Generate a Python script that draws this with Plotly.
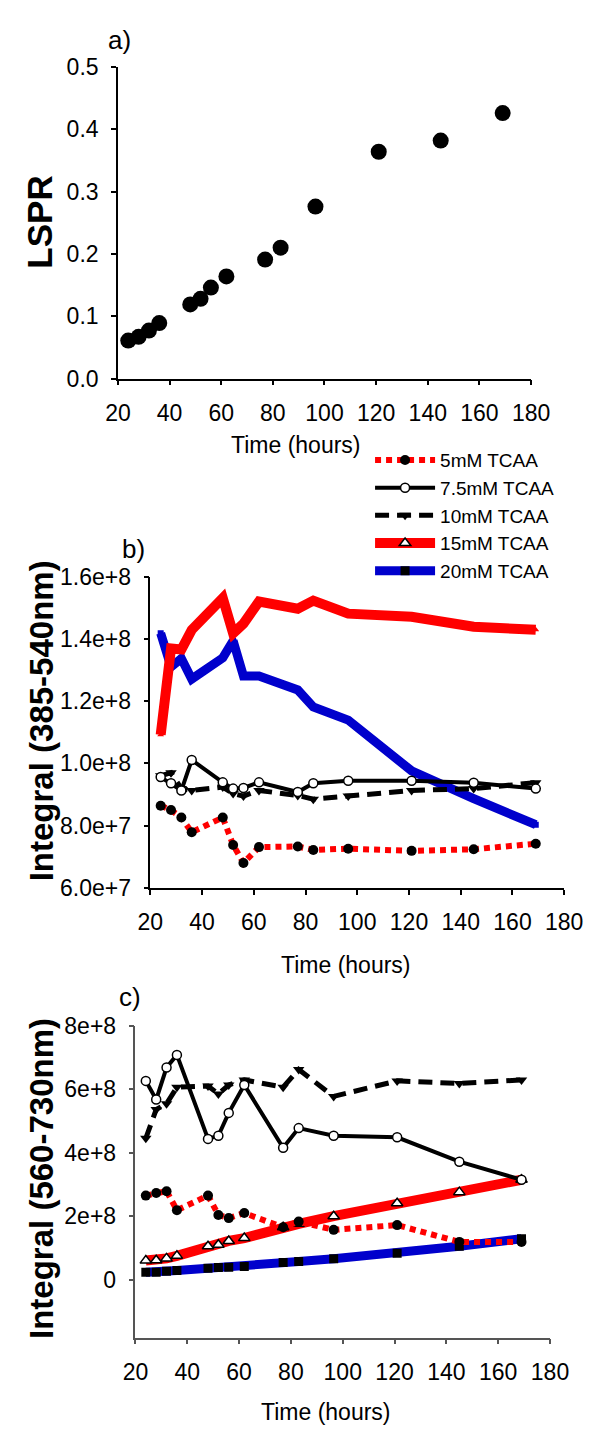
import plotly.graph_objects as go

W, H = 605, 1438

# ---------------- data ----------------
time_h = [24, 28, 32, 36, 48, 52, 56, 62, 77, 83, 96.5, 121, 145, 169]

# panel a
lspr = [0.061, 0.067, 0.077, 0.089, 0.119, 0.128, 0.146, 0.164, 0.191, 0.210, 0.276, 0.364, 0.382, 0.426]

# panel b : Integral (385-540nm)
b_5mM = [8.64e7, 8.50e7, 8.26e7, 7.79e7, 8.26e7, 7.38e7, 6.80e7, 7.31e7, 7.33e7, 7.22e7, 7.26e7, 7.19e7, 7.24e7, 7.42e7]
b_7_5mM = [9.56e7, 9.36e7, 9.13e7, 10.11e7, 9.39e7, 9.19e7, 9.21e7, 9.39e7, 9.08e7, 9.36e7, 9.44e7, 9.44e7, 9.38e7, 9.19e7]
b_10mM = [9.60e7, 9.70e7, 9.19e7, 9.13e7, 9.24e7, 9.03e7, 8.95e7, 9.13e7, 8.97e7, 8.85e7, 8.95e7, 9.13e7, 9.19e7, 9.38e7]
b_15mM = [10.92e7, 13.69e7, 13.66e7, 14.29e7, 15.31e7, 14.18e7, 14.49e7, 15.20e7, 14.97e7, 15.23e7, 14.81e7, 14.71e7, 14.39e7, 14.29e7]
b_20mM = [14.18e7, 13.10e7, 13.37e7, 12.71e7, 13.39e7, 13.94e7, 12.81e7, 12.81e7, 12.36e7, 11.81e7, 11.39e7, 9.76e7, 8.87e7, 8.03e7]

# panel c : Integral (560-730nm)
c_5mM = [2.65e8, 2.73e8, 2.79e8, 2.19e8, 2.65e8, 2.04e8, 1.94e8, 2.10e8, 1.65e8, 1.83e8, 1.57e8, 1.72e8, 1.19e8, 1.19e8]
c_7_5mM = [6.27e8, 5.68e8, 6.69e8, 7.09e8, 4.44e8, 4.54e8, 5.26e8, 6.14e8, 4.16e8, 4.78e8, 4.54e8, 4.49e8, 3.72e8, 3.15e8]
c_10mM = [4.46e8, 5.37e8, 5.55e8, 6.07e8, 6.11e8, 5.86e8, 6.14e8, 6.30e8, 6.07e8, 6.63e8, 5.78e8, 6.27e8, 6.19e8, 6.30e8]
c_15mM = [0.60e8, 0.61e8, 0.67e8, 0.75e8, 1.05e8, 1.10e8, 1.22e8, 1.31e8, 1.65e8, 1.76e8, 2.00e8, 2.41e8, 2.76e8, 3.15e8]
c_20mM = [0.23e8, 0.23e8, 0.26e8, 0.29e8, 0.36e8, 0.38e8, 0.39e8, 0.41e8, 0.54e8, 0.57e8, 0.66e8, 0.83e8, 1.05e8, 1.29e8]

series_names = ["5mM TCAA", "7.5mM TCAA", "10mM TCAA", "15mM TCAA", "20mM TCAA"]

x_ticks = [20, 40, 60, 80, 100, 120, 140, 160, 180]
a_ticks = [0.0, 0.1, 0.2, 0.3, 0.4, 0.5]
a_ticktext = ["0.0", "0.1", "0.2", "0.3", "0.4", "0.5"]
b_ticks = [6e7, 8e7, 1e8, 1.2e8, 1.4e8, 1.6e8]
b_ticktext = ["6.0e+7", "8.0e+7", "1.0e+8", "1.2e+8", "1.4e+8", "1.6e+8"]
c_ticks = [0, 2e8, 4e8, 6e8, 8e8]
c_ticktext = ["0", "2e+8", "4e+8", "6e+8", "8e+8"]

# ---------------- styles ----------------
RED = "#FF0000"
BLUE = "#0000CC"
FONT = "Liberation Sans, Arial, sans-serif"


def px_x(p):
    return p / W


def px_y(p):
    return 1 - p / H


styles = {
    "5mM TCAA": dict(line=dict(color=RED, width=6, dash="6px,5px"),
                     marker=dict(symbol="circle", size=10, color="black", line=dict(width=0))),
    "7.5mM TCAA": dict(line=dict(color="black", width=4),
                       marker=dict(symbol="circle", size=9, color="white", line=dict(color="black", width=1.5))),
    "10mM TCAA": dict(line=dict(color="black", width=5, dash="14px,8px"),
                      marker=dict(symbol="triangle-down", size=10, color="black", line=dict(width=0))),
    "15mM TCAA": dict(line=dict(color=RED, width=10),
                      marker=dict(symbol="triangle-up", size=10, color="white", line=dict(color="black", width=1.5))),
    "20mM TCAA": dict(line=dict(color=BLUE, width=9),
                      marker=dict(symbol="square", size=9, color="black", line=dict(width=0))),
}

fig = go.Figure()

# panel a
fig.add_trace(go.Scatter(x=time_h, y=lspr, mode="markers", xaxis="x", yaxis="y",
                         marker=dict(color="black", size=16), showlegend=False))

b_data = dict(zip(series_names, [b_5mM, b_7_5mM, b_10mM, b_15mM, b_20mM]))
c_data = dict(zip(series_names, [c_5mM, c_7_5mM, c_10mM, c_15mM, c_20mM]))

# draw order: 20mM at the back, 5mM on top
for rank, name in reversed(list(enumerate(series_names))):
    st = styles[name]
    bmarker = dict(st["marker"])
    if name in ("15mM TCAA", "20mM TCAA"):
        bmarker = dict(symbol=st["marker"]["symbol"], size=6, color=st["line"]["color"], line=dict(width=0))
    fig.add_trace(go.Scatter(x=time_h, y=b_data[name], mode="lines+markers", xaxis="x2", yaxis="y2",
                             line=st["line"], marker=bmarker, showlegend=False, name=name))
    fig.add_trace(go.Scatter(x=time_h, y=c_data[name], mode="lines+markers", xaxis="x3", yaxis="y3",
                             line=st["line"], marker=st["marker"], showlegend=True, name=name,
                             legendrank=rank + 1))

axis_common = dict(showline=True, linewidth=1.5, ticks="outside", ticklen=5, tickwidth=1.5,
                   showgrid=False, zeroline=False, tickfont=dict(family=FONT, size=23, color="black"),
                   ticklabelstandoff=8)

fig.update_layout(
    width=W, height=H, margin=dict(l=0, r=0, t=0, b=0),
    paper_bgcolor="white", plot_bgcolor="white",
    font=dict(family=FONT, color="black"),
    xaxis=dict(domain=[px_x(110.8), px_x(547)], anchor="y", range=[20, 180], tickvals=x_ticks,
               linecolor="black", tickcolor="black", **axis_common),
    yaxis=dict(domain=[px_y(372.3), px_y(55)], anchor="x", range=[0, 0.5], tickvals=a_ticks,
               ticktext=a_ticktext, linecolor="black", tickcolor="black", **axis_common),
    xaxis2=dict(domain=[px_x(145), px_x(582)], anchor="y2", range=[20, 180], tickvals=x_ticks,
                linecolor="black", tickcolor="black", **axis_common),
    yaxis2=dict(domain=[px_y(891), px_y(574)], anchor="x2", range=[6e7, 1.6e8], tickvals=b_ticks,
                ticktext=b_ticktext, linecolor="black", tickcolor="black", **axis_common),
    xaxis3=dict(domain=[px_x(129.3), px_x(567)], anchor="y3", range=[20, 180], tickvals=x_ticks,
                linecolor="#555555", tickcolor="#555555", **axis_common),
    yaxis3=dict(domain=[px_y(1349), px_y(1031.7)], anchor="x3", range=[-1.83e8, 8e8], tickvals=c_ticks,
                ticktext=c_ticktext, linecolor="#555555", tickcolor="#555555", **axis_common),
    legend=dict(x=px_x(377), y=px_y(436), xanchor="left", yanchor="top", bgcolor="rgba(0,0,0,0)",
                font=dict(family=FONT, size=19, color="black"), itemwidth=60, traceorder="normal",
                tracegroupgap=0),
    showlegend=True,
)

annots = [
    dict(text="a)", x=112, y=27, size=26, bold=False, angle=0),
    dict(text="b)", x=127, y=546, size=26, bold=False, angle=0),
    dict(text="c)", x=124, y=1002, size=26, bold=False, angle=0),
    dict(text="LSPR", x=28, y=213, size=35, bold=True, angle=-90),
    dict(text="Integral (385-540nm)", x=31, y=721, size=33, bold=True, angle=-90),
    dict(text="Integral (560-730nm)", x=30, y=1187, size=33, bold=True, angle=-90),
    dict(text="Time (hours)", x=299, y=440, size=23, bold=False, angle=0),
    dict(text="Time (hours)", x=352, y=970, size=23, bold=False, angle=0),
    dict(text="Time (hours)", x=330, y=1425, size=23, bold=False, angle=0),
]
for a in annots:
    fig.add_annotation(text=("<b>%s</b>" % a["text"]) if a["bold"] else a["text"],
                       x=px_x(a["x"]), y=px_y(a["y"]), xref="paper", yref="paper",
                       xanchor="center", yanchor="middle", showarrow=False, textangle=a["angle"],
                       font=dict(family=FONT, size=a["size"], color="black"))

fig.write_html("out.html", config={"displayModeBar": False},
               post_script="document.body.style.margin='0';")
